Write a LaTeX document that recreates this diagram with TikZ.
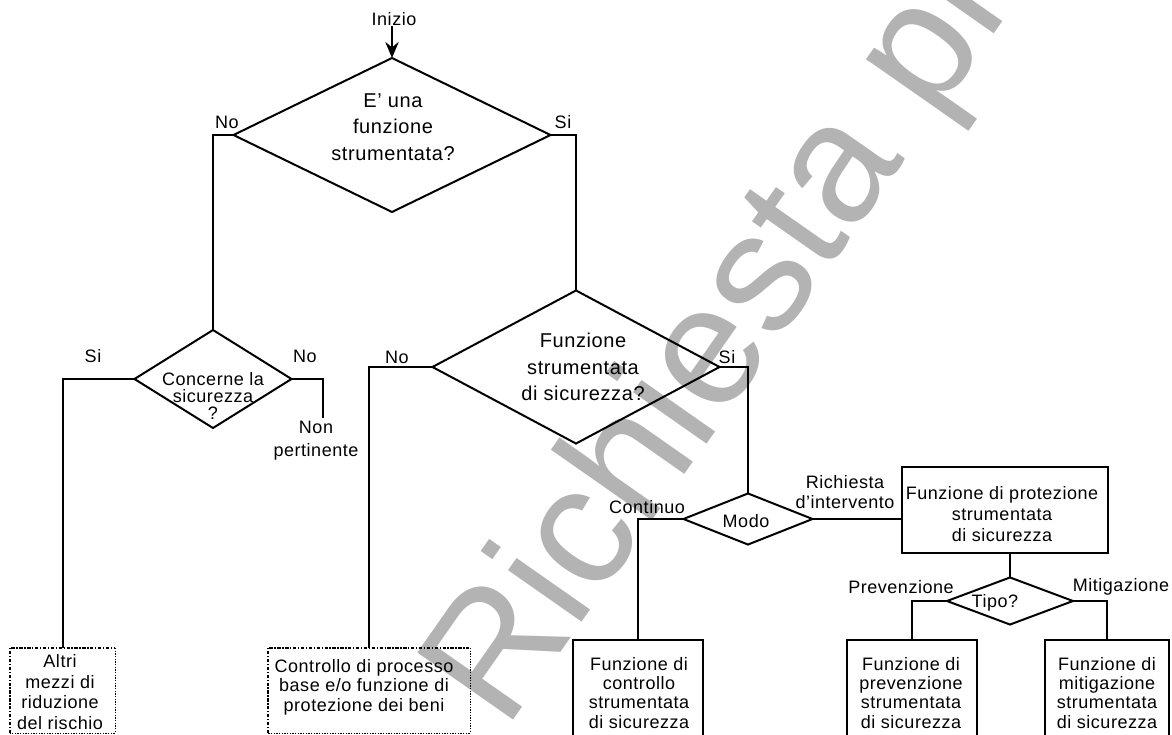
\documentclass[tikz,border=0pt]{standalone}
\usepackage{fontspec}
\setmainfont{Liberation Sans}[LetterSpace=3]
\newfontfamily\markfont{Liberation Sans}
\usetikzlibrary{shapes.geometric,arrows.meta}
\definecolor{markgray}{RGB}{179,179,179}
\begin{document}
\begin{tikzpicture}[x=0.75pt,y=-0.75pt,
  line/.style={line width=1.5pt},
  decision/.style={diamond, draw, line width=1.5pt, inner sep=0pt, outer sep=0pt},
  block/.style={rectangle, draw, line width=1.5pt, inner sep=0pt, outer sep=0pt},
  dotbox/.style={rectangle, inner sep=0pt, outer sep=0pt},
  dotheavy/.style={line width=1.4pt, dash pattern=on 2.5pt off 1.2pt on 1pt off 1.2pt},
  dotlight/.style={line width=0.6pt, dash pattern=on 1pt off 1pt},
  lbl/.style={font=\fontsize{13.5}{16}\selectfont, inner sep=0pt},
  qtext/.style={font=\fontsize{15}{20}\selectfont, align=center, inner sep=0pt},
  btext/.style={font=\fontsize{13.5}{14.3}\selectfont, align=center, inner sep=0pt},
]
\useasboundingbox (0,0) rectangle (1172,735);
\clip (0,0) rectangle (1172,735);

% background stamp
\node[text=markgray, rotate=55, anchor=base west, inner sep=0pt,
      font=\markfont\fontsize{127.5}{127.5}\selectfont] (stamp) at (505,732) {Richiesta pr};

% start
\node[lbl] (start) at (394,19) {Inizio};

% decisions
\node[decision, minimum width=237.8pt, minimum height=115.5pt] (d1) at (392,135) {};
\node[qtext] (d1t) at (393,127) {E’ una\\funzione\\strumentata?};

\node[decision, minimum width=117.8pt, minimum height=73.5pt] (d2) at (213,379) {};
\node[btext, font=\fontsize{13.5}{13}\selectfont] (d2t) at (213,396) {Concerne la\\sicurezza\\?};

\node[decision, minimum width=215.3pt, minimum height=114.8pt] (d3) at (576,367) {};
\node[qtext] (d3t) at (583,367) {Funzione\\strumentata\\di sicurezza?};

\node[decision, minimum width=96.8pt, minimum height=38.3pt] (dm) at (748,519) {};
\node[lbl] (dmt) at (746,521) {Modo};

\node[decision, minimum width=94.5pt, minimum height=35.3pt] (dt) at (1010,601) {};
\node[lbl] (dtt) at (995,603) {Tipo?};

% solid blocks
\node[block, minimum width=154.5pt, minimum height=64.5pt] (bp) at (1005,510) {};
\node[btext, font=\fontsize{13.5}{15.8}\selectfont] (bpt) at (1002,514) {Funzione di protezione\\strumentata\\di sicurezza};

\node[block, minimum width=97.5pt, minimum height=97.5pt] (bc) at (638,705) {};
\node[btext] (bct) at (639,693) {Funzione di\\controllo\\strumentata\\di sicurezza};

\node[block, minimum width=97.5pt, minimum height=97.5pt] (bv) at (912,705) {};
\node[btext] (bvt) at (911,693) {Funzione di\\prevenzione\\strumentata\\di sicurezza};

\node[block, minimum width=93pt, minimum height=97.5pt] (bm) at (1107,705) {};
\node[btext] (bmt) at (1107,693) {Funzione di\\mitigazione\\strumentata\\di sicurezza};

% dotted blocks
\node[dotbox, minimum width=78.8pt, minimum height=63.8pt] (ba) at (62.5,690.5) {};
\draw[dotheavy] (ba.south west) |- (ba.north east);
\draw[dotlight] (ba.north east) |- (ba.south west);
\node[btext, font=\fontsize{13.5}{15.5}\selectfont] (bat) at (60,692) {Altri\\mezzi di\\riduzione\\del rischio};

\node[dotbox, minimum width=151.5pt, minimum height=63.8pt] (bb) at (369,690.5) {};
\draw[dotheavy] (bb.south west) |- (bb.north east);
\draw[dotlight] (bb.north east) |- (bb.south west);
\node[btext, font=\fontsize{13.5}{14.6}\selectfont] (bbt) at (364,687) {Controllo di processo\\base e/o funzione di\\protezione dei beni};

% loose end
\coordinate (np) at (323,418);
\node[btext, font=\fontsize{13.5}{17}\selectfont] (npt) at (316,441) {Non\\pertinente};

% connectors
\draw[line, -{Stealth[length=12pt,width=10pt,inset=4pt]}] (start.south -| d1.north) -- (d1.north);
\draw[line] (d1.west) -| (d2.north);
\draw[line] (d1.east) -| (d3.north);
\draw[line] (d2.west) -| (ba.north);
\draw[line] (d2.east) -| (np);
\draw[line] (d3.west) -| (bb.north);
\draw[line] (d3.east) -| (dm.north);
\draw[line] (dm.west) -| (bc.north);
\draw[line] (dm.east) -- (dm.east -| bp.west);
\draw[line] (dt.north |- bp.south) -- (dt.north);
\draw[line] (dt.west) -| (bv.north);
\draw[line] (dt.east) -| (bm.north);

% branch labels
\node[lbl] (l1) at (227,122) {No};
\node[lbl] (l2) at (563,122) {Si};
\node[lbl] (l3) at (93,356) {Si};
\node[lbl] (l4) at (305,356) {No};
\node[lbl] (l5) at (397,357) {No};
\node[lbl] (l6) at (727,357) {Si};
\node[lbl] (l7) at (647,507) {Continuo};
\node[btext, font=\fontsize{13.5}{14.5}\selectfont] (l8) at (845,492) {Richiesta\\d’intervento};
\node[lbl] (l9) at (901,587) {Prevenzione};
\node[lbl] (l10) at (1121,587) {Mitigazione};
\end{tikzpicture}
\end{document}
